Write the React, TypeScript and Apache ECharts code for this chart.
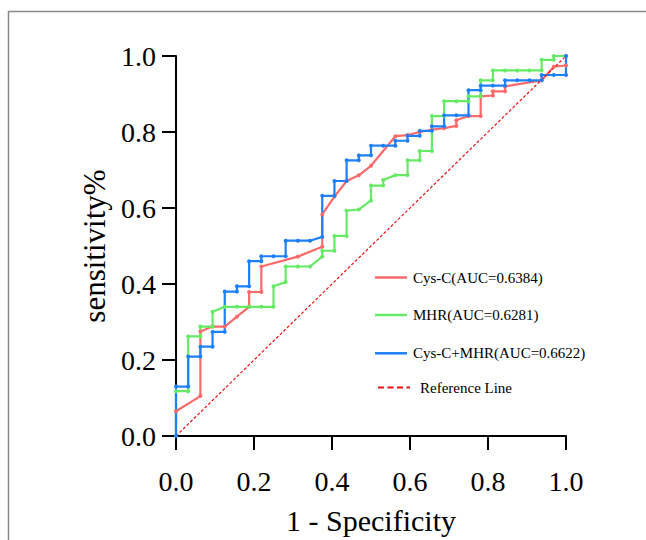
import React, { useEffect, useRef } from "react";
import * as echarts from "echarts";

// 1 - Specificity (x) and sensitivity (y) for each ROC curve
const cysCX = [0, 0, 0.0625, 0.0625, 0.09375, 0.125, 0.15625, 0.1875, 0.1875, 0.21875, 0.21875, 0.3125, 0.375, 0.375, 0.40625, 0.4375, 0.46875, 0.5, 0.5625, 0.59375, 0.625, 0.65625, 0.6875, 0.71875, 0.71875, 0.75, 0.78125, 0.78125, 0.8125, 0.8125, 0.84375, 0.84375, 0.9375, 0.96875, 1, 1];
const cysCY = [0, 0.065, 0.105, 0.275, 0.288, 0.288, 0.314, 0.34, 0.379, 0.379, 0.446, 0.472, 0.498, 0.583, 0.63, 0.671, 0.686, 0.711, 0.789, 0.792, 0.8, 0.806, 0.81, 0.816, 0.831, 0.842, 0.842, 0.894, 0.896, 0.907, 0.907, 0.92, 0.936, 0.972, 0.975, 1];

const mhrX = [0, 0, 0.03125, 0.03125, 0.0625, 0.0625, 0.09375, 0.09375, 0.125, 0.15625, 0.1875, 0.21875, 0.25, 0.25, 0.28125, 0.28125, 0.3125, 0.34375, 0.375, 0.375, 0.40625, 0.40625, 0.4375, 0.4375, 0.46875, 0.5, 0.5, 0.53125, 0.53125, 0.5625, 0.59375, 0.59375, 0.625, 0.625, 0.65625, 0.65625, 0.6875, 0.6875, 0.71875, 0.75, 0.75, 0.78125, 0.78125, 0.8125, 0.8125, 0.84375, 0.875, 0.90625, 0.9375, 0.9375, 0.96875, 0.96875, 1];
const mhrY = [0, 0.118, 0.118, 0.262, 0.262, 0.288, 0.288, 0.327, 0.34, 0.34, 0.34, 0.34, 0.34, 0.394, 0.405, 0.446, 0.446, 0.446, 0.472, 0.4875, 0.4875, 0.5265, 0.5265, 0.593, 0.596, 0.62, 0.659, 0.659, 0.6735, 0.6865, 0.6865, 0.7255, 0.7255, 0.75, 0.75, 0.842, 0.842, 0.881, 0.881, 0.881, 0.894, 0.894, 0.936, 0.936, 0.962, 0.962, 0.962, 0.962, 0.962, 0.99, 0.99, 1, 1];

const comboX = [0, 0, 0.03125, 0.03125, 0.0625, 0.0625, 0.09375, 0.09375, 0.125, 0.125, 0.15625, 0.15625, 0.1875, 0.1875, 0.21875, 0.21875, 0.25, 0.28125, 0.28125, 0.3125, 0.34375, 0.375, 0.375, 0.40625, 0.40625, 0.4375, 0.4375, 0.46875, 0.46875, 0.5, 0.5, 0.53125, 0.5625, 0.5625, 0.59375, 0.59375, 0.625, 0.625, 0.65625, 0.65625, 0.6875, 0.6875, 0.71875, 0.75, 0.75, 0.78125, 0.78125, 0.8125, 0.84375, 0.84375, 0.875, 0.90625, 0.9375, 0.9375, 0.96875, 1, 1];
const comboY = [0, 0.13, 0.13, 0.209, 0.209, 0.235, 0.235, 0.274, 0.274, 0.38, 0.38, 0.394, 0.394, 0.46, 0.46, 0.473, 0.473, 0.473, 0.514, 0.514, 0.514, 0.524, 0.632, 0.632, 0.671, 0.671, 0.7255, 0.7255, 0.7385, 0.7385, 0.764, 0.764, 0.764, 0.777, 0.777, 0.79, 0.79, 0.803, 0.803, 0.815, 0.815, 0.844, 0.844, 0.844, 0.91, 0.91, 0.922, 0.922, 0.922, 0.936, 0.936, 0.936, 0.936, 0.95, 0.95, 0.95, 1];

const refX = [0, 1];
const refY = [0, 1];

const seriesNames = ["Cys-C(AUC=0.6384)", "MHR(AUC=0.6281)", "Cys-C+MHR(AUC=0.6622)", "Reference Line"];

const RED = "#FA6A6A";
const GREEN = "#66EA66";
const BLUE = "#1E80F8";
const REFRED = "#F01010";
const FONT = "'Liberation Serif', 'Times New Roman', serif";

const zip = (xs: number[], ys: number[]) => xs.map((x, i) => [x, ys[i]]);

export default function App() {
  const ref = useRef<HTMLDivElement>(null);
  useEffect(() => {
    if (!ref.current) return;
    const chart = echarts.init(ref.current, undefined, { renderer: "svg" });
    const curve = (name: string, xs: number[], ys: number[], color: string) => ({
      name,
      type: "line",
      data: zip(xs, ys),
      symbol: "circle",
      symbolSize: 4,
      showSymbol: true,
      clip: false,
      lineStyle: { color, width: 2.2 },
      itemStyle: { color },
      emphasis: { disabled: true },
    });
    const axisCommon = {
      type: "value",
      min: 0,
      max: 1,
      interval: 0.2,
      splitLine: { show: false },
      axisLine: { show: true, lineStyle: { color: "#000", width: 2 } },
      axisTick: { show: true, inside: false, length: 14, lineStyle: { color: "#000", width: 2 } },
    };
    const legendRows = [
      { y: 277.5, color: RED, dashed: false, x1: 375, x2: 407, tx: 413, name: seriesNames[0] },
      { y: 315, color: GREEN, dashed: false, x1: 375, x2: 407, tx: 413, name: seriesNames[1] },
      { y: 353.3, color: BLUE, dashed: false, x1: 375, x2: 407, tx: 413, name: seriesNames[2] },
      { y: 387.5, color: REFRED, dashed: true, x1: 378, x2: 410, tx: 420, name: seriesNames[3] },
    ];
    const graphic: any[] = [
      {
        type: "rect",
        shape: { x: 8.5, y: 11.5, width: 800, height: 700 },
        style: { fill: "none", stroke: "#8a8a8a", lineWidth: 1.5 },
        silent: true,
      },
    ];
    legendRows.forEach((r) => {
      graphic.push({
        type: "line",
        shape: { x1: r.x1, y1: r.y, x2: r.x2, y2: r.y },
        style: { stroke: r.color, lineWidth: r.dashed ? 2 : 2.5, lineDash: r.dashed ? [6, 3.5] : null },
        silent: true,
      });
      graphic.push({
        type: "text",
        x: r.tx,
        y: r.y,
        style: {
          text: r.name,
          fill: "#000",
          fontSize: 15,
          fontFamily: FONT,
          verticalAlign: "middle",
          align: "left",
        },
        silent: true,
      });
    });
    chart.setOption({
      animation: false,
      textStyle: { fontFamily: FONT },
      grid: { left: 176, top: 56, width: 390, height: 385, containLabel: false },
      xAxis: {
        ...axisCommon,
        name: "1 - Specificity",
        nameLocation: "middle",
        nameGap: 69,
        nameTextStyle: { fontFamily: FONT, fontSize: 30, color: "#000" },
        axisLabel: {
          margin: 31,
          fontFamily: FONT,
          fontSize: 28,
          color: "#000",
          formatter: (v: number) => v.toFixed(1),
        },
      },
      yAxis: {
        ...axisCommon,
        name: "sensitivity%",
        nameLocation: "middle",
        nameGap: 62,
        nameTextStyle: { fontFamily: FONT, fontSize: 31, color: "#000" },
        axisLabel: {
          margin: 20,
          fontFamily: FONT,
          fontSize: 28,
          color: "#000",
          formatter: (v: number) => v.toFixed(1),
        },
      },
      series: [
        curve(seriesNames[0], cysCX, cysCY, RED),
        curve(seriesNames[1], mhrX, mhrY, GREEN),
        curve(seriesNames[2], comboX, comboY, BLUE),
        {
          name: seriesNames[3],
          type: "line",
          data: zip(refX, refY),
          showSymbol: false,
          symbol: "none",
          clip: false,
          lineStyle: { color: REFRED, width: 1.2, type: [3, 2] },
          emphasis: { disabled: true },
        },
      ],
      graphic,
    });
    return () => chart.dispose();
  }, []);
  return <div ref={ref} style={{ position: "fixed", left: 0, top: 0, width: 646, height: 540, background: "#fff" }} />;
}
